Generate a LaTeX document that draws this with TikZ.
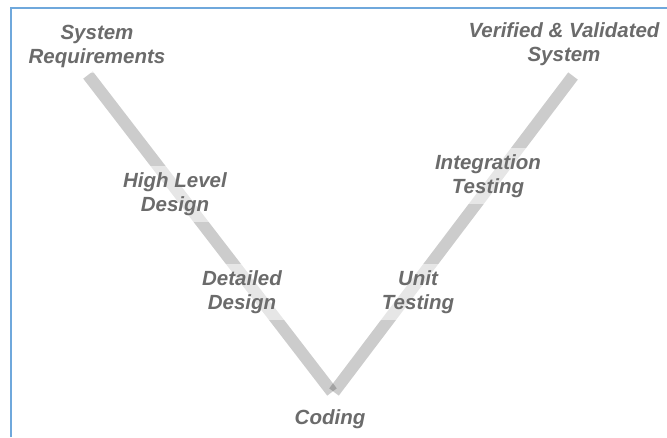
\documentclass[tikz,border=0pt]{standalone}
\usepackage{fontspec}
\setmainfont{Liberation Sans}
\definecolor{bordblue}{HTML}{6FA8DC}
\definecolor{labgray}{HTML}{6B6B6B}
\begin{document}
\begin{tikzpicture}[x=1pt,y=-1pt,
  vbar/.style={line width=12pt, draw=black, draw opacity=0.2},
  lab/.style={align=center, font=\fontsize{20.5}{24}\selectfont\bfseries\itshape,
    text=labgray, fill=white, fill opacity=0.5, text opacity=1, inner sep=6pt},
  frameline/.style={draw=bordblue, line width=2pt}]
\useasboundingbox (0,0) rectangle (667,437);
% frame
\coordinate (b1) at (11,437);
\coordinate (b2) at (11,8);
\coordinate (b3) at (667,8);
\draw[frameline] (b1) -- (b2) -- (b3);
% V bars
\coordinate (sr) at (88,75);
\coordinate (vl) at (332,392);
\coordinate (vr) at (334,392);
\coordinate (vs) at (573,76);
\draw[vbar] (sr) -- (vl);
\draw[vbar] (vr) -- (vs);
% labels
\node[lab] (sys) at (97,46) {System\\Requirements};
\node[lab] (hld) at (175,194) {High Level\\Design};
\node[lab] (dd) at (242,292) {Detailed\\Design};
\node[lab] (cod) at (330,419) {Coding};
\node[lab] (ut) at (418,292) {Unit\\Testing};
\node[lab] (it) at (488,176) {Integration\\Testing};
\node[lab] (vvs) at (564,44) {Verified \& Validated\\System};
\end{tikzpicture}
\end{document}
